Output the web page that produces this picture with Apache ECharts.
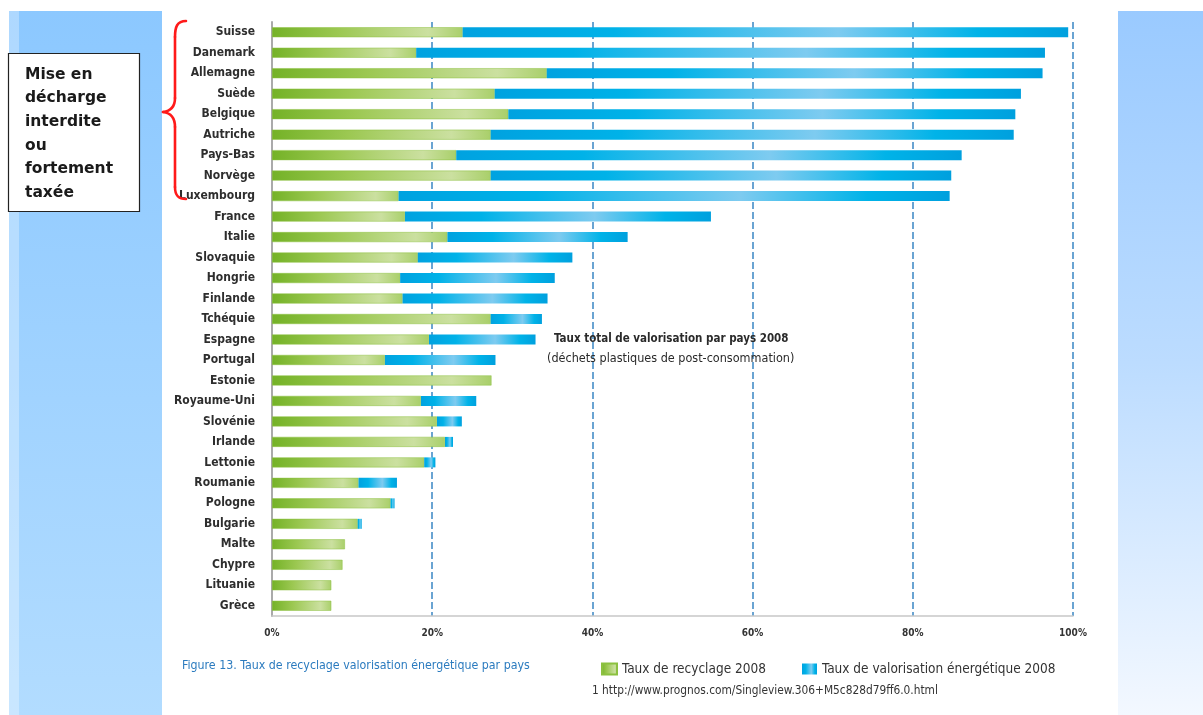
<!DOCTYPE html>
<html>
<head>
<meta charset="utf-8">
<script src="https://cdn.jsdelivr.net/npm/echarts@6/dist/echarts.min.js"></script>
<style>
html,body{margin:0;padding:0;background:#fff;}
#chart{width:1203px;height:715px;}
</style>
</head>
<body>
<div id="chart"></div>
<script>
var countries = ['Suisse','Danemark','Allemagne','Suède','Belgique','Autriche','Pays-Bas','Norvège','Luxembourg','France','Italie','Slovaquie','Hongrie','Finlande','Tchéquie','Espagne','Portugal','Estonie','Royaume-Uni','Slovénie','Irlande','Lettonie','Roumanie','Pologne','Bulgarie','Malte','Chypre','Lituanie','Grèce'];
var recyclage = [23.8,18.0,34.3,27.8,29.5,27.3,23.0,27.3,15.8,16.6,21.9,18.2,16.0,16.3,27.3,19.6,14.1,27.4,18.6,20.6,21.6,19.0,10.8,14.8,10.7,9.1,8.8,7.4,7.4];
var valorisation = [75.6,78.5,61.9,65.7,63.3,65.3,63.1,57.5,68.8,38.2,22.5,19.3,19.3,18.1,6.4,13.3,13.8,0,6.9,3.1,1.0,1.4,4.8,0.5,0.5,0,0,0,0];
var xTicks = [0,20,40,60,80,100];
var seriesNames = ['Taux de recyclage 2008','Taux de valorisation énergétique 2008'];

var greenGrad = new echarts.graphic.LinearGradient(0,0,1,0,[
  {offset:0,color:'#74b227'},{offset:0.35,color:'#9cc852'},{offset:0.82,color:'#cbe0a0'},{offset:1,color:'#a9cf6a'}]);
var blueGrad = new echarts.graphic.LinearGradient(0,0,1,0,[
  {offset:0,color:'#00a2e0'},{offset:0.25,color:'#00b2e8'},{offset:0.62,color:'#7ecbf0'},{offset:0.85,color:'#00b3e8'},{offset:1,color:'#00a0de'}]);

var font = 'DejaVu Sans Condensed';
var braceStyle = {fill:null,stroke:'#ff1a1a',lineWidth:2.6,lineCap:'round'};
function bez(x1,y1,c1x,c1y,c2x,c2y,x2,y2){
  return {type:'bezierCurve',z:6,shape:{x1:x1,y1:y1,cpx1:c1x,cpy1:c1y,cpx2:c2x,cpy2:c2y,x2:x2,y2:y2},style:braceStyle};
}
function seg(x1,y1,x2,y2){
  return {type:'line',z:6,shape:{x1:x1,y1:y1,x2:x2,y2:y2},style:braceStyle};
}

var chart = echarts.init(document.getElementById('chart'));
chart.setOption({
  backgroundColor:'#ffffff',
  animation:false,
  textStyle:{fontFamily:font},
  grid:{left:272,right:130,top:22,bottom:99,containLabel:false},
  xAxis:{
    type:'value',min:0,max:100,interval:20,
    axisLine:{show:true,lineStyle:{color:'#c8c8c8',width:1.5}},
    axisTick:{show:false},
    axisLabel:{formatter:'{value}%',color:'#333',fontSize:10,fontWeight:'bold',margin:12,fontFamily:font},
    splitLine:{show:true,lineStyle:{color:'#3a86c4',width:1.5,type:[7,3]}}
  },
  yAxis:{
    type:'category',data:countries,inverse:true,
    axisLine:{show:true,lineStyle:{color:'#aaaaaa',width:2}},
    axisTick:{show:false},
    axisLabel:{color:'#2e2e2e',fontSize:12,fontWeight:'bold',margin:17,fontFamily:font}
  },
  legend:[
    {data:[seriesNames[0]],left:596,top:657,itemWidth:15,itemHeight:11,icon:'rect',
     textStyle:{color:'#333',fontSize:13.5,fontFamily:font}},
    {data:[seriesNames[1]],left:797,top:657,itemWidth:15,itemHeight:11,icon:'rect',
     textStyle:{color:'#333',fontSize:13.5,fontFamily:font}}
  ],
  series:[
    {name:seriesNames[0],type:'bar',stack:'t',data:recyclage,barWidth:10,
     itemStyle:{color:greenGrad,borderColor:'#8cc140',borderWidth:0.5}},
    {name:seriesNames[1],type:'bar',stack:'t',data:valorisation,barWidth:10,
     itemStyle:{color:blueGrad}}
  ],
  graphic:[
    {type:'rect',z:-10,shape:{x:9,y:11,width:153,height:704},
     style:{fill:new echarts.graphic.LinearGradient(0,0,0,1,[{offset:0,color:'#8cc8ff'},{offset:1,color:'#b2dcff'}])}},
    {type:'rect',z:-9,shape:{x:9,y:11,width:10,height:704},style:{fill:'rgba(255,255,255,0.3)'}},
    {type:'rect',z:-10,shape:{x:1118,y:11,width:85,height:704},
     style:{fill:new echarts.graphic.LinearGradient(0,0,0,1,[{offset:0,color:'#9acaff'},{offset:0.5,color:'#bcdcff'},{offset:1,color:'#f3f8ff'}])}},
    {type:'rect',z:5,shape:{x:8.5,y:53.5,width:131,height:158},
     style:{fill:'#ffffff',stroke:'#222222',lineWidth:1.2}},
    {type:'text',z:6,x:25,y:63,
     style:{text:'Mise en\ndécharge\ninterdite\nou\nfortement\ntaxée',fill:'#1a1a1a',
     font:'bold 15.5px "DejaVu Sans"',lineHeight:23.6}},
    bez(186,21,177,21,175,27,175,37),
    seg(175,37,175,98),
    bez(175,98,175,107,171,111,163,112),
    bez(163,112,171,113,175,118,175,127),
    seg(175,127,175,187),
    bez(175,187,175,195,178,199,186,199),
    {type:'text',z:6,x:554,y:333,
     style:{text:'Taux total de valorisation par pays 2008',fill:'#2a2a2a',font:'bold 11.5px "DejaVu Sans Condensed"'}},
    {type:'text',z:6,x:547,y:352,
     style:{text:'(déchets plastiques de post-consommation)',fill:'#2a2a2a',font:'12.5px "DejaVu Sans Condensed"'}},
    {type:'text',z:6,x:182,y:660,
     style:{text:'Figure 13. Taux de recyclage valorisation énergétique par pays',fill:'#2b7bbf',font:'12.3px "DejaVu Sans Condensed"'}},
    {type:'text',z:6,x:592,y:685,
     style:{text:'1 http://www.prognos.com/Singleview.306+M5c828d79ff6.0.html',fill:'#333',font:'11.8px "DejaVu Sans Condensed"'}}
  ]
});
</script>
</body>
</html>
